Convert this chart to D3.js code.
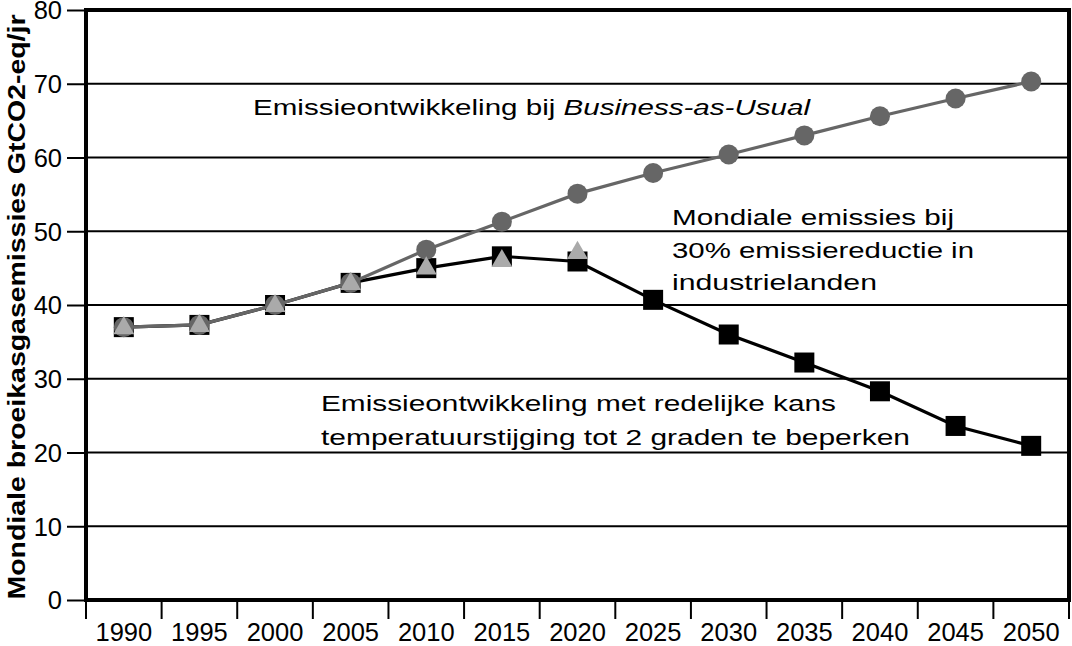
<!DOCTYPE html>
<html><head><meta charset="utf-8">
<script src="https://cdn.jsdelivr.net/npm/d3@7"></script>
<style>body{margin:0;background:#fff}svg{display:block}text{font-family:"Liberation Sans",Arial,sans-serif}</style>
</head><body><svg id="c" width="1072" height="646"></svg>
<script>
const years = [1990,1995,2000,2005,2010,2015,2020,2025,2030,2035,2040,2045,2050];
const bau = [37,37.3,40,43,47.5,51.3,55.1,57.9,60.4,63,65.6,68,70.3];
const twoDegree = [37,37.3,40,43,45,46.6,45.9,40.7,36,32.2,28.3,23.6,20.9];
const industrial30 = [37,37.3,40,43,45.1,46.1,47.2];
const yTicks = [0,10,20,30,40,50,60,70,80];
const yTitle = "Mondiale broeikasgasemissies GtCO2-eq/jr";
const noteBAU = ["Emissieontwikkeling bij ","Business-as-Usual"];
const noteIndustrial = ["Mondiale emissies bij","30% emissiereductie in","industrielanden"];
const noteTwoDegree = ["Emissieontwikkeling met redelijke kans","temperatuurstijging tot 2 graden te beperken"];

const svg = d3.select("#c");
const L=86,R=1069,T=10,B=600;
const x = d3.scaleBand().domain(years).range([L,R]);
const xc = d => x(d)+x.bandwidth()/2;
const y = d3.scaleLinear().domain([0,80]).range([B,T]);

// gridlines
svg.append("g").selectAll("line").data(yTicks.filter(v=>v>0&&v<80)).join("line")
  .attr("x1",L).attr("x2",R).attr("y1",d=>y(d)).attr("y2",d=>y(d))
  .attr("stroke","#000").attr("stroke-width",2);

// y axis
const ya = svg.append("g").attr("transform",`translate(${L},0)`)
  .call(d3.axisLeft(y).tickValues(yTicks).tickSize(19).tickPadding(5));
ya.select(".domain").remove();
ya.selectAll("line").attr("stroke","#000").attr("stroke-width",2);
ya.selectAll("text").attr("font-size",25.5).attr("fill","#000").attr("dy","0.35em");

// x axis ticks at band boundaries
const bounds = years.map(d=>x(d)).concat([R]);
svg.append("g").selectAll("line").data(bounds).join("line")
  .attr("x1",d=>d).attr("x2",d=>d).attr("y1",B).attr("y2",B+19)
  .attr("stroke","#000").attr("stroke-width",2);
const xa = svg.append("g").attr("transform",`translate(0,${B})`)
  .call(d3.axisBottom(x).tickSize(0).tickPadding(23));
xa.select(".domain").remove();
xa.selectAll("text").attr("font-size",25.5).attr("fill","#000");

// frame
svg.append("rect").attr("x",L).attr("y",T).attr("width",R-L).attr("height",B-T)
  .attr("fill","none").attr("stroke","#000").attr("stroke-width",4);

// y title
svg.append("text").attr("transform",`translate(25,${(T+B)/2+2}) rotate(-90)`)
  .attr("text-anchor","middle").attr("font-size",23).attr("font-weight","bold")
  .attr("textLength",585).attr("lengthAdjust","spacingAndGlyphs")
  .text(yTitle);

// two degree series (black)
const line = d3.line().x((d,i)=>xc(years[i])).y(d=>y(d));
svg.append("path").datum(twoDegree).attr("d",line).attr("fill","none")
  .attr("stroke","#000").attr("stroke-width",3.2);
svg.append("g").selectAll("rect").data(twoDegree).join("rect")
  .attr("x",(d,i)=>xc(years[i])-10).attr("y",d=>y(d)-10)
  .attr("width",20).attr("height",20).attr("fill","#000");

// BAU (grey)
svg.append("path").datum(bau).attr("d",line).attr("fill","none")
  .attr("stroke","#666").attr("stroke-width",3.2);
svg.append("g").selectAll("circle").data(bau).join("circle")
  .attr("cx",(d,i)=>xc(years[i])).attr("cy",d=>y(d)).attr("r",10).attr("fill","#666");

// 30% industrial (light grey triangles)
const tri = d3.symbol().type(d3.symbolTriangle).size(190);
svg.append("g").selectAll("path").data(industrial30).join("path")
  .attr("d",tri).attr("transform",(d,i)=>`translate(${xc(years[i])},${y(d)+1})`)
  .attr("fill","#aaa");

// annotations
const a1 = svg.append("text").attr("x",253).attr("y",115).attr("font-size",22.5).attr("fill","#000")
  .attr("textLength",557).attr("lengthAdjust","spacingAndGlyphs");
a1.append("tspan").text(noteBAU[0]);
a1.append("tspan").attr("font-style","italic").text(noteBAU[1]);

const w2 = [282,302,205];
svg.append("g").selectAll("text").data(noteIndustrial).join("text")
  .attr("x",672).attr("y",(d,i)=>225+i*32.5).attr("font-size",22.5)
  .attr("textLength",(d,i)=>w2[i]).attr("lengthAdjust","spacingAndGlyphs").text(d=>d);

const w3 = [515,589];
svg.append("g").selectAll("text").data(noteTwoDegree).join("text")
  .attr("x",321).attr("y",(d,i)=>411+i*33.5).attr("font-size",22.5)
  .attr("textLength",(d,i)=>w3[i]).attr("lengthAdjust","spacingAndGlyphs").text(d=>d);
</script></body></html>
